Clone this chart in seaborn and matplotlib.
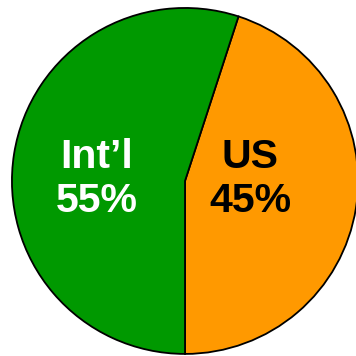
import matplotlib
matplotlib.use("Agg")
import matplotlib.pyplot as plt
import seaborn as sns

sns.set_style("white")
plt.rcParams["font.family"] = ["Liberation Sans", "DejaVu Sans"]

segments = ["US", "Int\u2019l"]
shares = [45, 55]
colors = ["#FF9900", "#009900"]
text_colors = ["black", "white"]

fig = plt.figure(figsize=(3.56, 3.56), dpi=100)
ax = fig.add_axes([0, 0, 1, 1])
wedges, _ = ax.pie(
    shares, colors=colors, startangle=-90, counterclock=True,
    radius=1.0, center=(0, 0),
    wedgeprops=dict(edgecolor="black", linewidth=1.3),
)

label_pos = [(0.378, 0.012), (-0.509, 0.012)]
for name, val, (x, y), tc in zip(segments, shares, label_pos, text_colors):
    ax.text(x, y, f"{name}\n{val}%", ha="center", va="center",
            fontsize=29.5, fontweight="bold", color=tc, linespacing=1.22)

ax.set_xlim(-1.069, 0.988)
ax.set_ylim(-1.012, 1.046)
ax.set_aspect("auto")
ax.axis("off")
fig.savefig("out.png", dpi=100)
